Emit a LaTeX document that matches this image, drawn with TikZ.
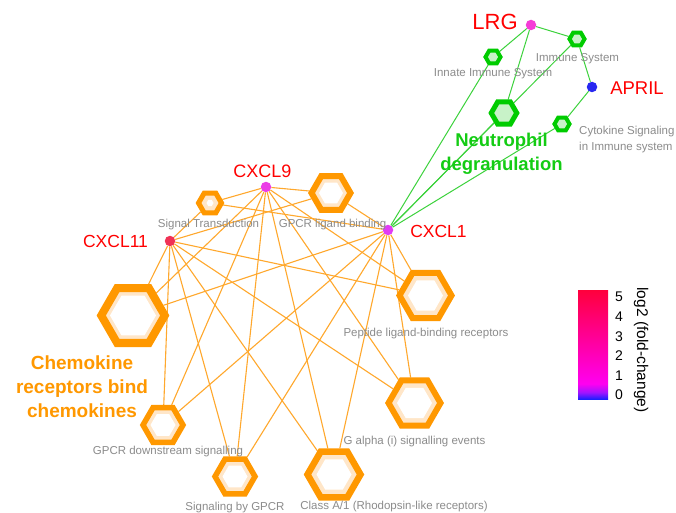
\documentclass[tikz,border=0pt]{standalone}
\usepackage{fontspec}
\setmainfont{Liberation Sans}
\usetikzlibrary{shapes.geometric,backgrounds}
\definecolor{hexor}{RGB}{255,152,0}
\definecolor{hexpeach}{RGB}{255,230,200}
\definecolor{edgeor}{RGB}{255,168,45}
\definecolor{hexgr}{RGB}{0,204,0}
\definecolor{hexgrfill}{RGB}{200,242,200}
\definecolor{edgegr}{RGB}{60,210,60}
\definecolor{labgr}{RGB}{20,204,20}
\definecolor{laborange}{RGB}{255,152,0}
\definecolor{greytext}{RGB}{140,140,140}
\definecolor{redtext}{RGB}{255,0,0}
\definecolor{cLRG}{RGB}{245,60,215}
\definecolor{cAPRIL}{RGB}{40,40,240}
\definecolor{cCXCLix}{RGB}{235,60,230}
\definecolor{cCXCLxi}{RGB}{240,50,85}
\definecolor{cCXCLi}{RGB}{225,60,245}
\definecolor{cbblue}{RGB}{30,30,255}
\definecolor{cbpurple}{RGB}{160,20,255}
\definecolor{cbmag}{RGB}{255,0,240}
\definecolor{cbred}{RGB}{255,0,60}
\pgfdeclareverticalshading{cbarshade}{100bp}{color(0bp)=(cbblue); color(25bp)=(cbblue); color(28bp)=(cbpurple); color(32bp)=(cbmag); color(75bp)=(cbred); color(100bp)=(cbred)}
\tikzset{
  ohex/.style={regular polygon, regular polygon sides=6, draw=hexor, fill=hexpeach, inner sep=0pt},
  ihex/.style={regular polygon, regular polygon sides=6, fill=white, inner sep=0pt},
  ghex/.style={regular polygon, regular polygon sides=6, draw=hexgr, fill=hexgrfill, inner sep=0pt},
  gene/.style={circle, minimum size=10.5pt, inner sep=0pt},
  genelab/.style={text=redtext, inner sep=0pt},
  pathlab/.style={text=greytext, inner sep=0pt, font=\fontsize{11.5}{13}\selectfont},
  oedge/.style={draw=edgeor, line width=1.1pt},
  gedge/.style={draw=edgegr, line width=1pt},
  ticklab/.style={inner sep=0pt, font=\fontsize{14}{16}\selectfont}
}
\begin{document}
\begin{tikzpicture}[x=1pt,y=-1pt]
\useasboundingbox (0,0) rectangle (676,513);
% orange pathway hexagons
\node[ohex, minimum size=23pt, line width=5pt] (st) at (210,203) {};
\node[ihex, minimum size=7pt] (stin) at (st) {};
\node[ohex, minimum size=39pt, line width=6pt] (glb) at (331,193) {};
\node[ihex, minimum size=24pt] (glbin) at (glb) {};
\node[ohex, minimum size=63.5pt, line width=8pt] (crb) at (133,315.5) {};
\node[ihex, minimum size=46pt] (crbin) at (crb) {};
\node[ohex, minimum size=52pt, line width=6pt] (plr) at (425.5,295.5) {};
\node[ihex, minimum size=35pt] (plrin) at (plr) {};
\node[ohex, minimum size=40pt, line width=5.5pt] (gds) at (163,425) {};
\node[ihex, minimum size=25pt] (gdsin) at (gds) {};
\node[ohex, minimum size=52pt, line width=6pt] (gai) at (414.5,403) {};
\node[ihex, minimum size=35pt] (gaiin) at (gai) {};
\node[ohex, minimum size=40pt, line width=5.5pt] (sbg) at (235,476.5) {};
\node[ihex, minimum size=25pt] (sbgin) at (sbg) {};
\node[ohex, minimum size=53pt, line width=6.5pt] (cla) at (334,474.5) {};
\node[ihex, minimum size=35pt] (clain) at (cla) {};
% green pathway hexagons
\node[ghex, minimum size=15pt, line width=4pt] (inn) at (493,57) {};
\node[ghex, minimum size=15pt, line width=4pt] (ims) at (577,39) {};
\node[ghex, minimum size=25.5pt, line width=5pt] (neu) at (504,113) {};
\node[ghex, minimum size=15pt, line width=4pt] (cyt) at (562,124) {};
% genes
\node[gene, fill=cLRG] (lrg) at (531,25) {};
\node[gene, fill=cAPRIL] (april) at (592,87) {};
\node[gene, fill=cCXCLix] (cx9) at (266,187) {};
\node[gene, fill=cCXCLxi] (cx11) at (170,241) {};
\node[gene, fill=cCXCLi] (cx1) at (388,230) {};
% edges
\begin{pgfonlayer}{background}
\fill[white] (0,0) rectangle (676,513);
\foreach \g in {cx9,cx11,cx1}{
  \foreach \p in {st,glb,crb,plr,gds,gai,sbg,cla}{
    \draw[oedge] (\g) -- (\p);
  }
}
\draw[gedge] (lrg) -- (inn);
\draw[gedge] (lrg) -- (ims);
\draw[gedge] (lrg) -- (neu);
\draw[gedge] (april) -- (ims);
\draw[gedge] (april) -- (cyt);
\draw[gedge] (cx1) -- (inn);
\draw[gedge] (cx1) -- (neu);
\draw[gedge] (cx1) -- (ims);
\draw[gedge] (cx1) -- (cyt);
\end{pgfonlayer}
% gene labels
\node[genelab, anchor=base, font=\fontsize{22}{24}\selectfont] (lrgl) at (495,29.5) {LRG};
\node[genelab, anchor=base, font=\fontsize{18.5}{20}\selectfont] (aprill) at (637,94.5) {APRIL};
\node[genelab, anchor=base, font=\fontsize{18}{20}\selectfont] (cx9l) at (262.5,177.5) {CXCL9};
\node[genelab, anchor=base, font=\fontsize{17.5}{20}\selectfont] (cx11l) at (115.5,247.5) {CXCL11};
\node[genelab, anchor=base, font=\fontsize{17.5}{20}\selectfont] (cx1l) at (438.5,237) {CXCL1};
% pathway labels
\node[pathlab, anchor=base] (stl) at (208.5,227.3) {Signal Transduction};
\node[pathlab, anchor=base] (glbl) at (332.5,227.3) {GPCR ligand binding};
\node[pathlab, anchor=base] (plrl) at (426,336) {Peptide ligand-binding receptors};
\node[pathlab, anchor=base] (gail) at (414.5,444.3) {G alpha (i) signalling events};
\node[pathlab, anchor=base] (clal) at (394,509) {Class A/1 (Rhodopsin-like receptors)};
\node[pathlab, anchor=base] (gdsl) at (168,454.3) {GPCR downstream signalling};
\node[pathlab, anchor=base] (sbgl) at (235,510) {Signaling by GPCR};
\node[pathlab, anchor=base] (innl) at (493,76.5) {Innate Immune System};
\node[pathlab, anchor=base] (imsl) at (577.5,61.5) {Immune System};
\node[pathlab, anchor=base west] (cytl) at (579,135) {Cytokine Signaling};
\node[pathlab, anchor=base west] (cytl2) at (579,150) {in Immune system};
% cluster labels
\node[text=labgr, anchor=base, inner sep=0pt, font=\fontsize{18.5}{20}\selectfont\bfseries] (neul1) at (501.5,146.7) {Neutrophil};
\node[text=labgr, anchor=base, inner sep=0pt, font=\fontsize{18.5}{20}\selectfont\bfseries] (neul2) at (501.5,170) {degranulation};
\node[text=laborange, anchor=base, inner sep=0pt, font=\fontsize{19}{21}\selectfont\bfseries] (crbl1) at (82,369) {Chemokine};
\node[text=laborange, anchor=base, inner sep=0pt, font=\fontsize{19}{21}\selectfont\bfseries] (crbl2) at (82,393) {receptors bind};
\node[text=laborange, anchor=base, inner sep=0pt, font=\fontsize{19}{21}\selectfont\bfseries] (crbl3) at (82,417) {chemokines};
% colour bar
\shade[shading=cbarshade] (578,290) rectangle (608,399);
\foreach \v in {0,...,5}{
  \node[ticklab] (tick\v) at (619,395-19.6*\v) {\v};
}
\node[rotate=-90, inner sep=0pt, font=\fontsize{15.5}{17}\selectfont] (cblab) at (641,350) {log2 (fold-change)};
\end{tikzpicture}
\end{document}
